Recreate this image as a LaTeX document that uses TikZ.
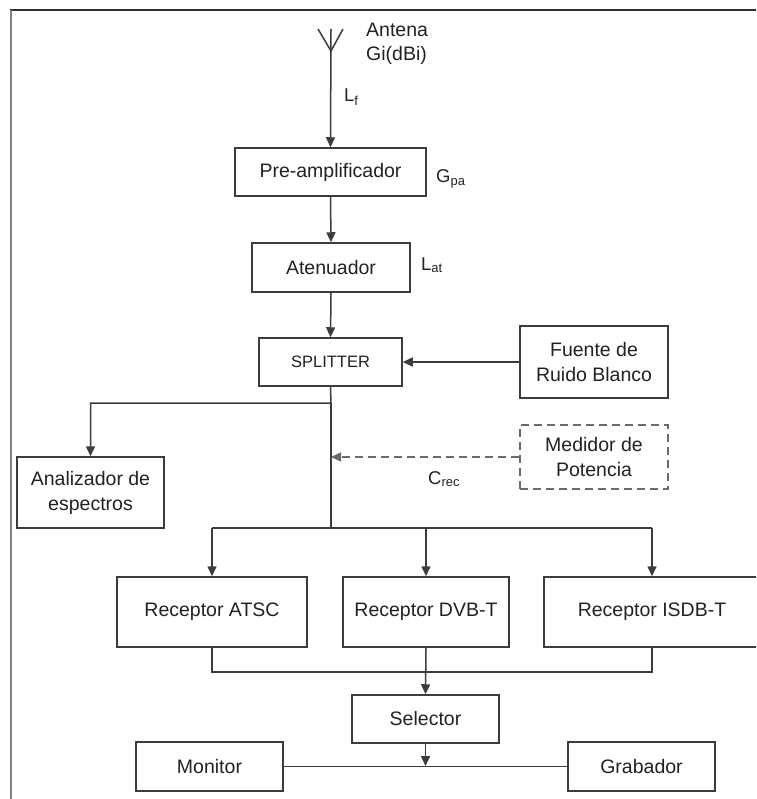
\documentclass[tikz,border=0pt]{standalone}
\usepackage{fontspec}
\setmainfont{Liberation Sans}
\usetikzlibrary{arrows.meta}
\definecolor{ln}{HTML}{3C3C3C}
\definecolor{tx}{HTML}{222222}
\definecolor{dsh}{HTML}{6A6A6A}
\tikzset{
  blk/.style={draw=ln, line width=1.5pt, fill=white, inner sep=0pt, align=center,
    text=tx, font=\fontsize{19.5}{25}\selectfont},
  lbl/.style={inner sep=0pt, anchor=west, text=tx, font=\fontsize{18.5}{22}\selectfont},
  wire/.style={draw=ln, line width=1.5pt},
  arr/.style={wire, -{Triangle[length=10pt,width=9pt]}},
  dashbox/.style={blk, draw=dsh, dash pattern=on 8pt off 5pt},
  dashwire/.style={draw=dsh, line width=1.5pt, dash pattern=on 8pt off 5pt, -{Triangle[length=10pt,width=9pt]}}
}
\begin{document}
\begin{tikzpicture}[x=1pt,y=-1pt]
\clip (0,0) rectangle (756,799);
\fill[white] (0,0) rectangle (756,799);
% frame
\draw[draw=ln!80!black, line width=2pt] (10,10.5) -- (760,10.5);
\draw[draw=gray, line width=2pt] (10.5,10) -- (10.5,805);

% nodes
\node[blk, minimum width=191pt, minimum height=48pt] (pre) at (330.5,172) {Pre-amplificador};
\node[blk, minimum width=158pt, minimum height=49pt] (aten) at (331,267.5) {Atenuador};
\node[blk, minimum width=143pt, minimum height=48pt, font=\fontsize{16.5}{20}\selectfont] (split) at (330.5,362) {SPLITTER};
\node[blk, minimum width=148pt, minimum height=72pt] (fuente) at (594,362) {Fuente de\\Ruido Blanco};
\node[dashbox, minimum width=148pt, minimum height=64pt] (med) at (594,457) {Medidor de\\Potencia};
\node[blk, minimum width=147pt, minimum height=71pt] (anal) at (90.5,492.5) {Analizador de\\espectros};
\node[blk, minimum width=190pt, minimum height=70pt] (atsc) at (212,612) {Receptor ATSC};
\node[blk, minimum width=166pt, minimum height=70pt] (dvb) at (426,612) {Receptor DVB-T};
\node[blk, minimum width=216pt, minimum height=70pt] (isdb) at (652,612) {Receptor ISDB-T};
\node[blk, minimum width=147pt, minimum height=48pt] (sel) at (425.5,719) {Selector};
\node[blk, minimum width=147pt, minimum height=49pt] (mon) at (209.5,766.5) {Monitor};
\node[blk, minimum width=147pt, minimum height=49pt] (grab) at (641.5,766.5) {Grabador};

% antenna
\coordinate (antT) at (331,29);
\coordinate (antJ) at (331,51);
\coordinate (antL) at (318,29);
\coordinate (antR) at (343,29);
\draw[wire] (antL) -- (antJ) -- (antR);
\draw[arr] (antT) -- (pre.north);
\node[inner sep=0pt, anchor=west, align=left, text=tx, font=\fontsize{19.5}{24}\selectfont] (antlab) at (366,44) {Antena\\Gi(dBi)};

% labels
\node[lbl] (lf) at (344,97) {L\textsubscript{f}};
\node[lbl] (gpa) at (436,179) {G\textsubscript{pa}};
\node[lbl] (lat) at (421,265) {L\textsubscript{at}};
\node[lbl] (crec) at (428,479) {C\textsubscript{rec}};

% main chain
\draw[arr] (pre.south) -- (aten.north);
\draw[arr] (aten.south) -- (split.north);
\draw[arr] (fuente.west) -- (split.east);

% splitter branches
\coordinate (b1) at (331,403);
\coordinate (b2) at (331,528);
\draw[arr] (split.south) -- (b1) -| (anal.north);
\draw[wire] (b1) -- (b2);
\draw[dashwire] (med.west) -- (331,457);
\coordinate (hl) at (212,528);
\coordinate (hr) at (652,528);
\draw[wire] (hl) -- (hr);
\draw[arr] (hl) -- (atsc.north);
\draw[arr] (426,528) -- (dvb.north);
\draw[arr] (hr) -- (isdb.north);

% merge to selector
\coordinate (ml) at (212,672);
\coordinate (mr) at (652,672);
\draw[wire] (atsc.south) -- (ml) -- (mr) -- (isdb.south);
\draw[arr] (dvb.south) -- (sel.north);

% selector outputs
\coordinate (so) at (425.5,766);
\draw[wire] (mon.east) -- (grab.west);
\draw[arr] (sel.south) -- (so);
\end{tikzpicture}
\end{document}
